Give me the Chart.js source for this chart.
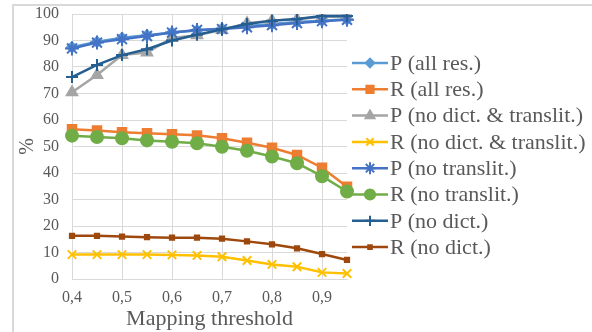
<!DOCTYPE html>
<html>
<head>
<meta charset="utf-8">
<script src="https://cdn.jsdelivr.net/npm/chart.js@4"></script>
<style>
  html, body { margin: 0; padding: 0; background: #fff; }
  #wrap { position: relative; width: 592px; height: 332px; }
  #frame { position: absolute; left: 12px; top: 4px; right: 0; bottom: 0;
           border-top: 2px solid #d9d9d9; border-left: 2px solid #d9d9d9; }
  canvas { position: absolute; left: 0; top: 0; }
</style>
</head>
<body>
<div id="wrap">
  <div id="frame"></div>
  <canvas id="chart" width="592" height="332"></canvas>
</div>
<script>
// Mapping thresholds (x categories)
const thresholds = ['0,4', '0,45', '0,5', '0,55', '0,6', '0,65', '0,7', '0,75', '0,8', '0,85', '0,9', '0,95'];

// Series values (%)
const pAll = [87.5, 89.5, 91, 92, 93, 93.8, 94.5, 95.5, 96.2, 97, 97.5, 98];
const rAll = [56.5, 56, 55.4, 55, 54.6, 54.2, 53.1, 51.4, 49.5, 46.8, 42, 34.8];
const pNoDictTranslit = [70.5, 77, 84.5, 85.5, 91, 92, 94, 96.5, 97.5, 98, 99, 99];
const rNoDictTranslit = [9.2, 9.2, 9.2, 9.2, 9.1, 8.9, 8.4, 7, 5.5, 4.6, 2.5, 2.1];
const pNoTranslit = [87, 89.2, 90.5, 91.7, 93, 94, 94.3, 95, 95.8, 96.6, 97.3, 97.8];
const rNoTranslit = [54.1, 53.6, 53.1, 52.3, 51.8, 51.2, 49.9, 48.4, 46.2, 43.7, 38.8, 33];
const pNoDict = [76.2, 80.8, 84.5, 86.7, 90, 92.2, 94.2, 96.2, 97.5, 98.1, 99.2, 99.2];
const rNoDict = [16.3, 16.3, 16, 15.8, 15.6, 15.6, 15.2, 14.2, 13.1, 11.6, 9.4, 7.2];

const seriesLabels = ['P (all res.)', 'R (all res.)', 'P (no dict. & translit.)', 'R (no dict. & translit.)',
                      'P (no translit.)', 'R (no translit.)', 'P (no dict.)', 'R (no dict.)'];

const serif = '"Liberation Serif", "Times New Roman", serif';
const textColor = '#595959';
const gridColor = '#d9d9d9';

function series(i, data, color, style, radius) {
    return {
        label: seriesLabels[i],
        data: data,
        borderColor: color,
        backgroundColor: color,
        pointBackgroundColor: color,
        pointBorderColor: color,
        pointStyle: style,
        pointRadius: radius,
        pointBorderWidth: 2,
        borderWidth: 2.5,
        tension: 0,
        order: 10 - i
    };
}

const datasets = [
    series(0, pAll, '#5b9bd5', 'rectRot', 5),
    series(1, rAll, '#ed7d31', 'rect', 6),
    series(2, pNoDictTranslit, '#a5a5a5', 'triangle', 6),
    series(3, rNoDictTranslit, '#ffc000', 'crossRot', 6),
    series(4, pNoTranslit, '#4472c4', 'star', 7),
    series(5, rNoTranslit, '#70ad47', 'circle', 6),
    series(6, pNoDict, '#255e91', 'cross', 6),
    series(7, rNoDict, '#9e480e', 'rect', 3)
];

// Legend with line + marker, drawn to the right of the plot
const sideLegend = {
    id: 'sideLegend',
    afterDraw(chart) {
        const ctx = chart.ctx;
        const x0 = 352, x1 = 388, tx = 390, y0 = 63, step = 26.3;
        ctx.save();
        chart.data.datasets.forEach((ds, i) => {
            const y = y0 + i * step;
            ctx.strokeStyle = ds.borderColor;
            ctx.fillStyle = ds.borderColor;
            ctx.lineWidth = 2.5;
            ctx.beginPath();
            ctx.moveTo(x0, y);
            ctx.lineTo(x1, y);
            ctx.stroke();
            ctx.lineWidth = 2;
            Chart.helpers.drawPoint(ctx, {
                pointStyle: ds.pointStyle,
                radius: ds.pointRadius * 0.85,
                borderWidth: 2,
                rotation: 0
            }, (x0 + x1) / 2, y);
            ctx.fillStyle = textColor;
            ctx.font = '22px ' + serif;
            ctx.textBaseline = 'middle';
            ctx.textAlign = 'left';
            ctx.fillText(ds.label, tx, y + 1);
        });
        ctx.restore();
    }
};

new Chart(document.getElementById('chart'), {
    type: 'line',
    data: { labels: thresholds, datasets: datasets },
    options: {
        responsive: false,
        animation: false,
        events: [],
        layout: { padding: { left: 16, top: 14, right: 245, bottom: 0 } },
        plugins: {
            legend: { display: false },
            tooltip: { enabled: false }
        },
        scales: {
            x: {
                type: 'category',
                offset: false,
                grid: {
                    color: (c) => (c.index % 2 === 0 ? gridColor : 'rgba(0,0,0,0)'),
                    lineWidth: 1,
                    drawTicks: false
                },
                border: { color: gridColor },
                ticks: {
                    autoSkip: false,
                    maxRotation: 0,
                    padding: 9,
                    color: textColor,
                    font: { family: serif, size: 16 },
                    callback: function (v, i) { return i % 2 === 0 ? thresholds[i] : ''; }
                },
                title: {
                    display: true,
                    text: 'Mapping threshold',
                    color: textColor,
                    font: { family: serif, size: 22 },
                    padding: { top: -2, bottom: 0 }
                },
                afterFit(scale) {
                    scale.height = 53;
                    scale.paddingLeft = 0;
                    scale.paddingRight = 0;
                }
            },
            y: {
                min: 0,
                max: 100,
                ticks: {
                    stepSize: 10,
                    padding: 13,
                    color: textColor,
                    font: { family: serif, size: 16 }
                },
                grid: { color: gridColor, drawTicks: false },
                border: { display: false },
                title: {
                    display: true,
                    text: '%',
                    color: textColor,
                    font: { family: serif, size: 20 },
                    padding: { top: 0, bottom: 0 }
                },
                afterFit(scale) {
                    scale.width = 56;
                    scale.paddingTop = 0;
                    scale.paddingBottom = 0;
                }
            }
        }
    },
    plugins: [sideLegend]
});
</script>
</body>
</html>
